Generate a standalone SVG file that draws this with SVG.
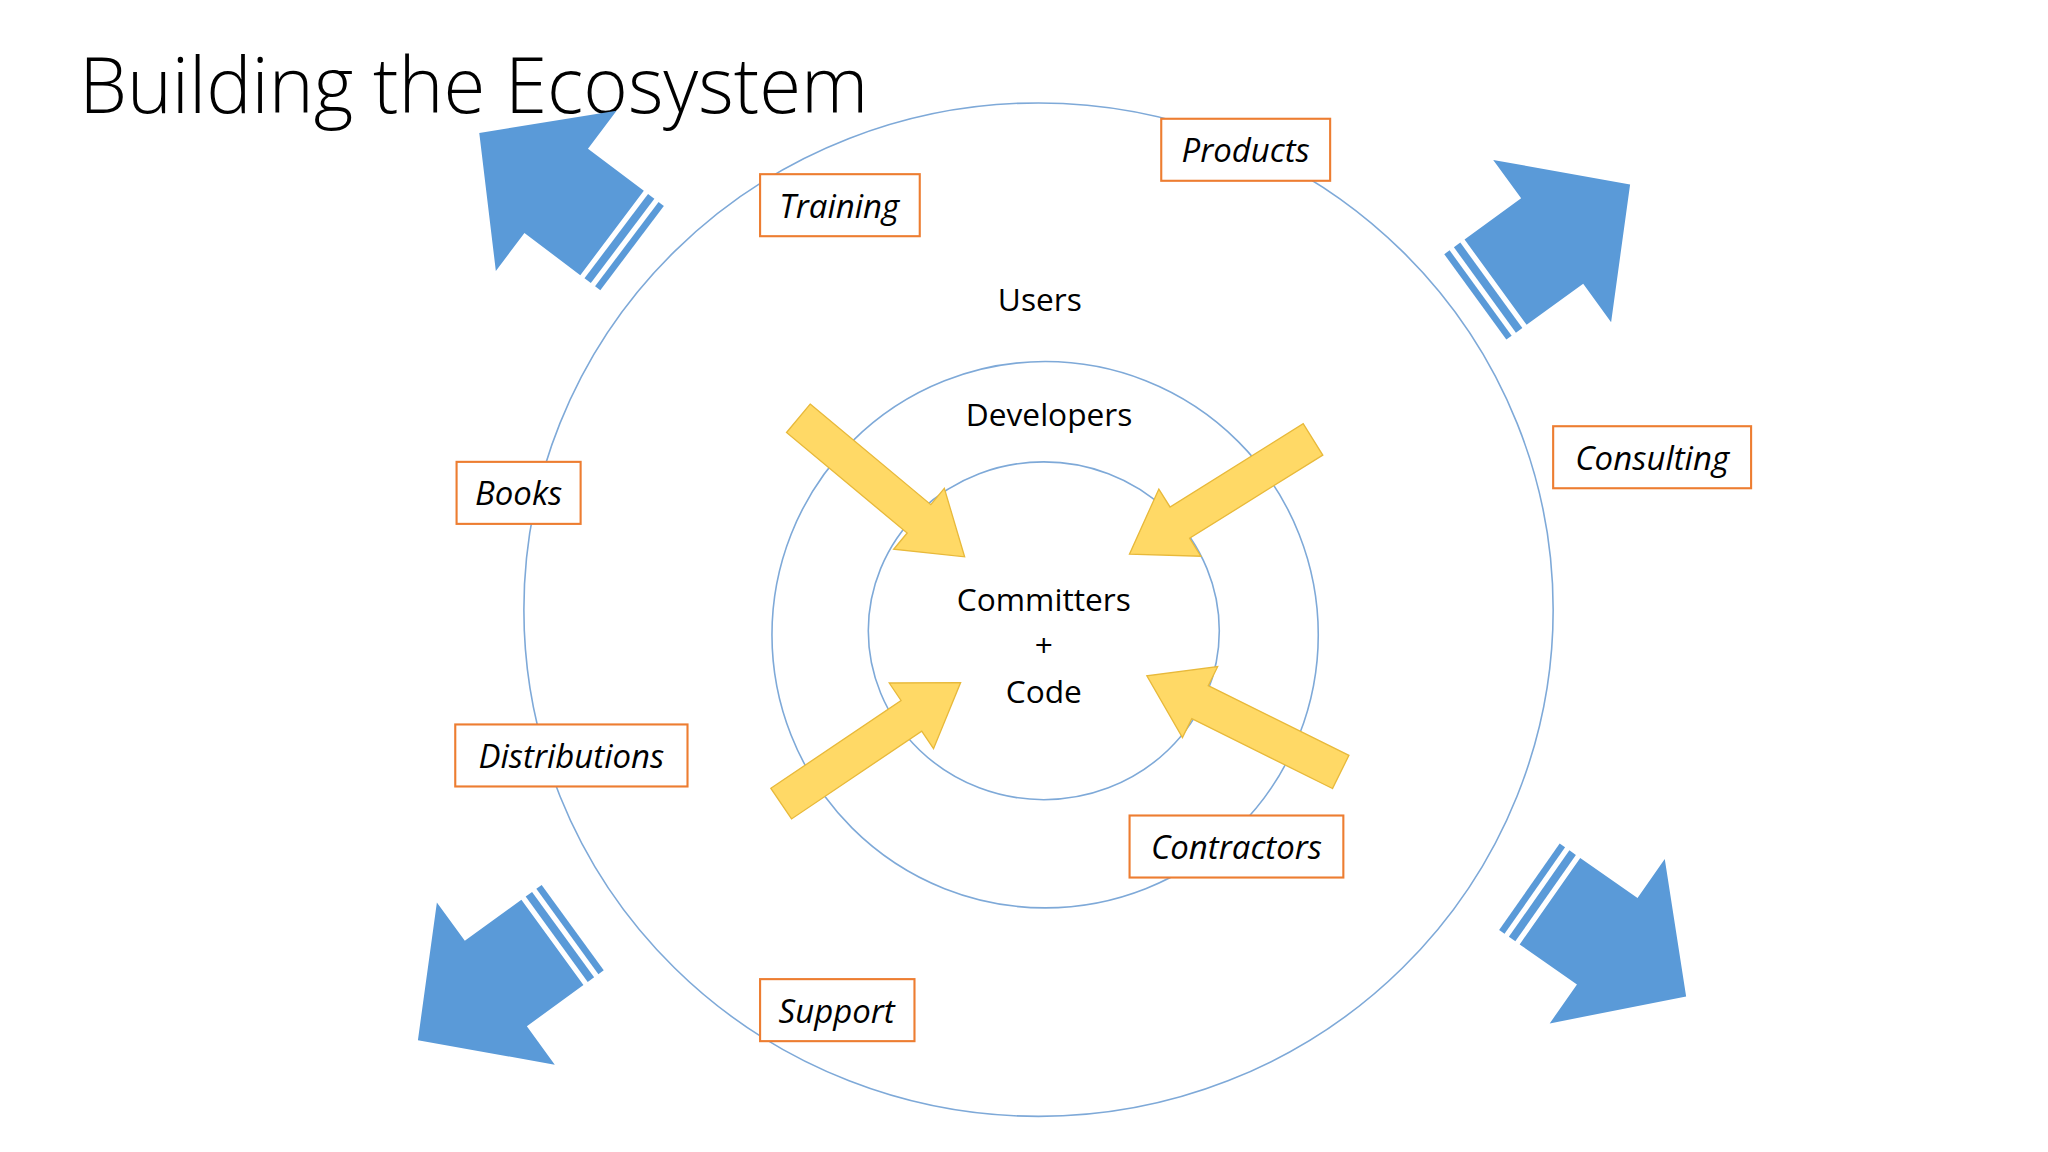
<svg xmlns="http://www.w3.org/2000/svg" width="2048" height="1152" viewBox="0 0 2048 1152">
<style>
.ring{fill:none;stroke:#7ea9d8;stroke-width:1.2}
.box{fill:#fff;stroke:#ed7d31;stroke-width:1.6}
.lbl{font-family:"Open Sans","Liberation Sans",sans-serif;font-style:italic;font-size:25px;fill:#000;text-anchor:middle}
.ctr{font-family:"Open Sans","Liberation Sans",sans-serif;font-size:24px;fill:#000;text-anchor:middle}
.ya{fill:#ffd966;stroke:#e8b93a;stroke-width:1}
.ba{fill:#5a9ad8}
</style>
<defs>
<path id="yarrow" d="M0,-14 L119,-14 L119,-30 L164,0 L119,30 L119,14 L0,14 Z"/>
<g id="barrow">
<rect x="0" y="-40" width="5" height="80"/>
<rect x="9" y="-40" width="6" height="80"/>
<path d="M19,-40 L72,-40 L72,-76 L145,0 L72,76 L72,40 L19,40 Z"/>
</g>
</defs>
<rect width="2048" height="1152" fill="#fff"/>
<g transform="scale(1.31959)">
<text x="60" y="86" font-family="Open Sans, Liberation Sans, sans-serif" font-weight="300" font-size="58" textLength="598" lengthAdjust="spacingAndGlyphs">Building the Ecosystem</text>
<g id="rings">
<ellipse class="ring" cx="787" cy="462" rx="390" ry="384"/>
<ellipse class="ring" cx="792" cy="481" rx="207" ry="207"/>
<ellipse class="ring" cx="791" cy="478" rx="133" ry="128"/>
</g>
<g id="connectors">
<use href="#yarrow" class="ya" transform="translate(605,317) rotate(39.8)"/>
<use href="#yarrow" class="ya" transform="translate(995,333) rotate(148)"/>
<use href="#yarrow" class="ya" transform="translate(592,609) rotate(-34)"/>
<use href="#yarrow" class="ya" transform="translate(1016,585) rotate(206.4)"/>
<use href="#barrow" class="ba" transform="translate(1159,672) rotate(35)"/>
<use href="#barrow" class="ba" transform="translate(1118,225) rotate(-36)"/>
<use href="#barrow" class="ba" transform="translate(479,188) rotate(217)"/>
<use href="#barrow" class="ba" transform="translate(434,703) rotate(144)"/>
</g>
<g id="users"><text class="ctr" x="788" y="236">Users</text></g>
<g id="developers"><text class="ctr" x="795" y="323">Developers</text></g>
<g id="committers"><text class="ctr" x="791" y="463">Committers</text><text class="ctr" x="791" y="498">+</text><text class="ctr" x="791" y="533">Code</text></g>
<g id="training"><rect class="box" x="576" y="132" width="121" height="47"/><text class="lbl" x="636" y="165">Training</text></g>
<g id="products"><rect class="box" x="880" y="90" width="128" height="47"/><text class="lbl" x="944" y="123">Products</text></g>
<g id="books"><rect class="box" x="346" y="350" width="94" height="47"/><text class="lbl" x="393" y="383">Books</text></g>
<g id="consulting"><rect class="box" x="1177" y="323" width="150" height="47"/><text class="lbl" x="1252" y="356">Consulting</text></g>
<g id="distributions"><rect class="box" x="345" y="549" width="176" height="47"/><text class="lbl" x="433" y="582">Distributions</text></g>
<g id="contractors"><rect class="box" x="856" y="618" width="162" height="47"/><text class="lbl" x="937" y="651">Contractors</text></g>
<g id="support"><rect class="box" x="576" y="742" width="117" height="47"/><text class="lbl" x="634" y="775">Support</text></g>
</g>
</svg>
